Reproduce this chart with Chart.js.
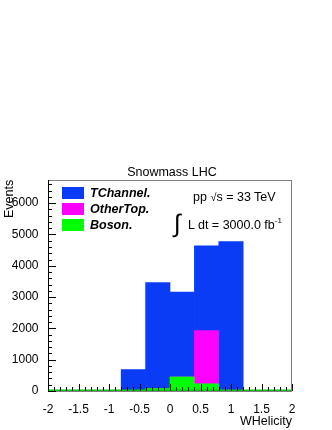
<!DOCTYPE html>
<html>
<head>
<meta charset="utf-8">
<script src="https://cdn.jsdelivr.net/npm/chart.js@4"></script>
<style>
  body { margin: 0; background: #fff; }
  #wrap { position: relative; width: 332px; height: 430px; font-family: "Liberation Sans", Arial, sans-serif; color: #000; }
  #grafico { position: absolute; left: 0; top: 0; }
  .txt { position: absolute; white-space: nowrap; line-height: 1; }
  .leg { position: absolute; left: 62px; width: 22px; height: 12px; }
  .legtxt { position: absolute; left: 90px; font-weight: bold; font-style: italic; font-size: 12.5px; line-height: 1; }
</style>
</head>
<body>
<div id="wrap">
  <canvas id="grafico" width="332" height="430"></canvas>
  <div class="txt" style="left:0;width:344px;text-align:center;top:166px;font-size:12.5px;">Snowmass LHC</div>
  <div class="txt" style="left:3px;top:218px;font-size:12.5px;transform:rotate(-90deg);transform-origin:0 0;">Events</div>
  <div class="txt" style="right:40px;top:415px;font-size:12.5px;">WHelicity</div>

  <div class="leg" style="top:187px;background:#0a3cf5;"></div>
  <div class="legtxt" style="top:187px;">TChannel.</div>
  <div class="leg" style="top:203px;background:#ff00ff;"></div>
  <div class="legtxt" style="top:203px;">OtherTop.</div>
  <div class="leg" style="top:219px;background:#00ff00;"></div>
  <div class="legtxt" style="top:219px;">Boson.</div>

  <div class="txt" style="left:193px;top:191px;font-size:12.5px;">pp <span style="font-size:11px;">&radic;</span>s = 33 TeV</div>
  <div class="txt" style="left:174px;top:211px;font-size:25px;font-weight:lighter;">&int;</div>
  <div class="txt" style="left:188px;top:217px;font-size:12.5px;">L dt = 3000.0 fb<sup style="font-size:8px;vertical-align:6px;">-1</sup></div>
</div>
<script>
// centros dos bins (largura 0.4, de -2 a 2)
const centros = [-1.8, -1.4, -1.0, -0.6, -0.2, 0.2, 0.6, 1.0, 1.4, 1.8];

// valores empilhados
const boson     = [0, 0, 0, 0, 80, 450, 230, 0, 0, 0];
const otherTop  = [0, 0, 0, 0, 0, 0, 1700, 0, 0, 0];
const tChannel  = [0, 0, 0, 685, 3380, 2710, 2710, 4775, 0, 0];

// rótulos dos eixos
const xTicks = [-2, -1.5, -1, -0.5, 0, 0.5, 1, 1.5, 2];
const yTicks = [0, 1000, 2000, 3000, 4000, 5000, 6000];

// eixos
const xMin = -2, xMax = 2, xPasso = 0.5, xMenor = 0.1;
const yMin = 0, yMax = 6740, yPasso = 1000, yMenor = 200;

function pontos(vals) {
    return centros.map((c, i) => ({ x: c, y: vals[i] }));
}

// desenha moldura, ticks para dentro e a linha verde em zero (estilo ROOT)
const estiloRoot = {
    id: 'estiloRoot',
    afterDatasetsDraw(chart) {
        const ctx = chart.ctx;
        const a = chart.chartArea;
        const sx = chart.scales.x, sy = chart.scales.y;
        ctx.save();

        // linha verde do Boson em zero
        ctx.strokeStyle = '#00cc00';
        ctx.lineWidth = 2;
        ctx.beginPath();
        ctx.moveTo(a.left, sy.getPixelForValue(0) - 0.5);
        ctx.lineTo(a.right, sy.getPixelForValue(0) - 0.5);
        ctx.stroke();

        // moldura
        ctx.strokeStyle = '#808080';
        ctx.lineWidth = 1;
        ctx.strokeRect(a.left + 0.5, a.top + 0.5, a.right - a.left - 1, a.bottom - a.top);

        ctx.strokeStyle = '#000';
        ctx.beginPath();
        // ticks do eixo x
        for (let v = xMin; v <= xMax + 1e-9; v += xMenor) {
            const r = Math.round(v * 10) / 10;
            const px = Math.round(sx.getPixelForValue(r)) + 0.5;
            const maior = Math.abs(r / xPasso - Math.round(r / xPasso)) < 1e-6;
            const len = maior ? 7 : 4;
            ctx.moveTo(px, a.bottom);
            ctx.lineTo(px, a.bottom - len);
        }
        // ticks do eixo y
        for (let v = yMin; v <= yMax; v += yMenor) {
            const py = Math.round(sy.getPixelForValue(v)) + 0.5;
            const len = (v % yPasso === 0) ? 8 : 4;
            ctx.moveTo(a.left, py);
            ctx.lineTo(a.left + len, py);
        }
        // linhas dos eixos
        ctx.moveTo(a.left + 0.5, a.top);
        ctx.lineTo(a.left + 0.5, a.bottom);
        ctx.stroke();
        ctx.restore();
    }
};

const ctx = document.getElementById('grafico').getContext('2d');
new Chart(ctx, {
    type: 'bar',
    data: {
        datasets: [
            { label: 'Boson.', data: pontos(boson), backgroundColor: '#00ff00' },
            { label: 'OtherTop.', data: pontos(otherTop), backgroundColor: '#ff00ff' },
            { label: 'TChannel.', data: pontos(tChannel), backgroundColor: '#0a3cf5' }
        ]
    },
    options: {
        responsive: false,
        animation: false,
        layout: { padding: { left: 0, right: 40, top: 180, bottom: 0 } },
        datasets: { bar: { barPercentage: 1, categoryPercentage: 1, borderWidth: 0 } },
        scales: {
            x: {
                type: 'linear',
                stacked: true,
                min: xMin,
                max: xMax,
                offset: false,
                grid: { display: false },
                border: { display: false },
                ticks: {
                    padding: 3,
                    maxRotation: 0,
                    autoSkip: false,
                    color: '#000',
                    font: { family: 'Liberation Sans', size: 12 },
                    callback: v => String(v)
                },
                afterBuildTicks(scale) { scale.ticks = xTicks.map(v => ({ value: v })); },
                afterFit(scale) { scale.height = 39; }
            },
            y: {
                stacked: true,
                min: yMin,
                max: yMax,
                grid: { display: false },
                border: { display: false },
                ticks: {
                    padding: 1.5,
                    color: '#000',
                    font: { family: 'Liberation Sans', size: 12 },
                    callback: v => String(v)
                },
                afterBuildTicks(scale) { scale.ticks = yTicks.map(v => ({ value: v })); },
                afterFit(scale) { scale.width = 48; }
            }
        },
        plugins: {
            legend: { display: false },
            tooltip: { enabled: false }
        }
    },
    plugins: [estiloRoot]
});
</script>
</body>
</html>
